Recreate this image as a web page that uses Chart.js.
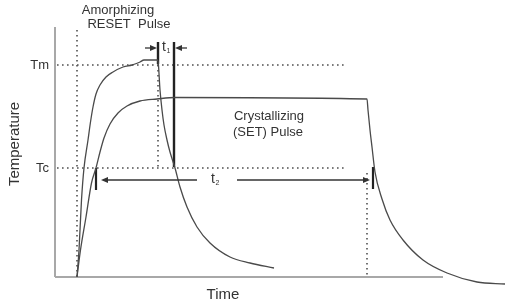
<!DOCTYPE html>
<html>
<head>
<meta charset="utf-8">
<script src="https://cdn.jsdelivr.net/npm/chart.js@4/dist/chart.umd.min.js"></script>
<style>
  html, body { margin: 0; padding: 0; background: #fff; }
  canvas { display: block; }
</style>
</head>
<body>
<canvas id="c" width="505" height="306"></canvas>
<script>
// ---- Data (arbitrary schematic units: time, temperature) ----
const amorphTime = [0, 2, 4.5, 7, 11, 13.5, 16, 19, 23, 29, 36, 46, 55, 58, 63, 67, 80, 81, 83, 85, 87, 90, 93, 98, 103, 110, 120, 133, 153, 173, 197];
const amorphTemp = [0, 27, 77, 109, 137, 155, 170, 183, 192, 200, 205, 210, 212, 213, 215, 217, 217, 216, 187, 167, 152, 137, 125, 109, 90, 70, 50, 34, 20, 14, 9];

const crystTime = [0, 3.5, 9, 14.5, 19, 23, 27, 33, 41, 50, 63, 80, 98, 290, 291, 293, 295, 298, 305, 313, 326, 346, 370, 400, 428];
const crystTemp = [0, 27, 60, 94, 109, 125, 139, 153, 164, 171, 176, 178, 179.5, 178, 167, 147, 130, 105, 78, 57, 37, 17, 4, -5, -7];

const levelNames = ['Tm', 'Tc'];
const levelTemps = [212, 109];

const resetEnd = 81;     // end of RESET pulse
const t1Mark = 97;       // t1 reference line
const setStart = 19;     // Tc crossing of SET pulse
const setEnd = 296;      // end marker of SET pulse
const setOff = 290;      // SET pulse switched off
const markTop = 235;     // top of pulse markers
const t1Level = 229;
const t2Level = 97;

const axisTime = [-22, 366];
const axisTempTop = 250;

function pts(xs, ys) { return xs.map((x, i) => ({ x: x, y: ys[i] })); }
function seg(x1, y1, x2, y2) { return [{ x: x1, y: y1 }, { x: x2, y: y2 }]; }

const curveColor = '#4a4a4a';
const dotColor = '#505050';
const dotted = (data) => ({ data, borderColor: dotColor, borderWidth: 1.6, borderDash: [1.6, 3.4], pointRadius: 0, showLine: true, fill: false });
const solid = (data, w, c) => ({ data, borderColor: c, borderWidth: w, pointRadius: 0, showLine: true, fill: false });

const datasets = [
  solid(pts(amorphTime, amorphTemp), 1.3, curveColor),
  solid(pts(crystTime, crystTemp), 1.3, curveColor),
  // pulse markers
  solid(seg(resetEnd, markTop, resetEnd, levelTemps[0] + 1), 2.4, '#222'),
  solid(seg(t1Mark, markTop, t1Mark, levelTemps[1] + 1), 2.4, '#222'),
  solid(seg(setStart, levelTemps[1], setStart, levelTemps[1] - 22), 2.2, '#222'),
  solid(seg(setEnd, levelTemps[1] + 1, setEnd, levelTemps[1] - 21), 2.2, '#222'),
  // dotted guides
  dotted(seg(-20, levelTemps[0], 270, levelTemps[0])),
  dotted(seg(-20, levelTemps[1], 268, levelTemps[1])),
  dotted(seg(0, 247, 0, 0)),
  dotted(seg(resetEnd, levelTemps[0], resetEnd, levelTemps[1])),
  dotted(seg(setOff, 104, setOff, 0)),
  // axes
  solid(seg(axisTime[0], 0, axisTime[0], axisTempTop), 2, '#a8a8a8'),
  solid(seg(axisTime[0], 0, axisTime[1], 0), 2, '#a8a8a8')
];
datasets.forEach(d => { d.tension = 0; d.clip = false; });
datasets[0].cubicInterpolationMode = 'monotone';
datasets[1].cubicInterpolationMode = 'monotone';

const arrows = [
  { from: [68, t1Level], to: [80, t1Level] },
  { from: [110, t1Level], to: [98, t1Level] },
  { from: [120, t2Level], to: [24, t2Level] },
  { from: [160, t2Level], to: [293, t2Level] }
];

const FONT = '"Liberation Sans", Arial, Helvetica, sans-serif';
const labels = [
  { text: 'Amorphizing', x: 41, y: 267, size: 13, align: 'center' },
  { text: 'RESET  Pulse', x: 52, y: 253, size: 13, align: 'center' },
  { text: levelNames[0], x: -28, y: levelTemps[0], size: 13, align: 'right' },
  { text: levelNames[1], x: -28, y: levelTemps[1], size: 13, align: 'right' },
  { text: 'Crystallizing', x: 192, y: 161, size: 13, align: 'center' },
  { text: '(SET) Pulse', x: 156, y: 145, size: 13, align: 'left' },
  { text: 'Time', x: 146, y: -18, size: 15, align: 'center' },
  { text: 'Temperature', x: -62, y: 133, size: 15, align: 'center', rotate: true }
];
const subLabels = [
  { main: 't', sub: '1', x: 89, y: t1Level + 1 },
  { main: 't', sub: '2', x: 138, y: t2Level + 1 }
];

const overlay = {
  id: 'overlay',
  afterDatasetsDraw(chart) {
    const ctx = chart.ctx, xs = chart.scales.x, ys = chart.scales.y;
    ctx.save();
    // arrows
    ctx.strokeStyle = '#333'; ctx.fillStyle = '#333'; ctx.lineWidth = 1.3;
    arrows.forEach(a => {
      const x1 = xs.getPixelForValue(a.from[0]), y1 = ys.getPixelForValue(a.from[1]);
      const x2 = xs.getPixelForValue(a.to[0]), y2 = ys.getPixelForValue(a.to[1]);
      const ang = Math.atan2(y2 - y1, x2 - x1);
      const L = 7, W = 3;
      ctx.beginPath();
      ctx.moveTo(x1, y1);
      ctx.lineTo(x2 - Math.cos(ang) * (L - 1), y2 - Math.sin(ang) * (L - 1));
      ctx.stroke();
      ctx.beginPath();
      ctx.moveTo(x2, y2);
      ctx.lineTo(x2 - Math.cos(ang) * L - Math.sin(ang) * W, y2 - Math.sin(ang) * L + Math.cos(ang) * W);
      ctx.lineTo(x2 - Math.cos(ang) * L + Math.sin(ang) * W, y2 - Math.sin(ang) * L - Math.cos(ang) * W);
      ctx.closePath();
      ctx.fill();
    });
    // labels
    ctx.fillStyle = '#333';
    ctx.textBaseline = 'middle';
    labels.forEach(l => {
      const px = xs.getPixelForValue(l.x), py = ys.getPixelForValue(l.y);
      ctx.font = l.size + 'px ' + FONT;
      ctx.textAlign = l.align;
      if (l.rotate) {
        ctx.save();
        ctx.translate(px, py);
        ctx.rotate(-Math.PI / 2);
        ctx.fillText(l.text, 0, 0);
        ctx.restore();
      } else {
        ctx.fillText(l.text, px, py);
      }
    });
    subLabels.forEach(l => {
      const px = xs.getPixelForValue(l.x), py = ys.getPixelForValue(l.y);
      ctx.textAlign = 'left';
      ctx.font = '14px ' + FONT;
      ctx.fillText(l.main, px - 4, py);
      const w = ctx.measureText(l.main).width;
      ctx.font = '7px ' + FONT;
      ctx.fillText(l.sub, px - 4 + w + 0.5, py + 4);
    });
    ctx.restore();
  }
};

new Chart(document.getElementById('c'), {
  type: 'scatter',
  data: { datasets },
  options: {
    responsive: false,
    animation: false,
    devicePixelRatio: 1,
    layout: { padding: 0 },
    plugins: { legend: { display: false }, tooltip: { enabled: false } },
    scales: {
      x: { type: 'linear', min: -77, max: 428, display: false },
      y: { type: 'linear', min: -29, max: 277, display: false }
    }
  },
  plugins: [overlay]
});
</script>
</body>
</html>
